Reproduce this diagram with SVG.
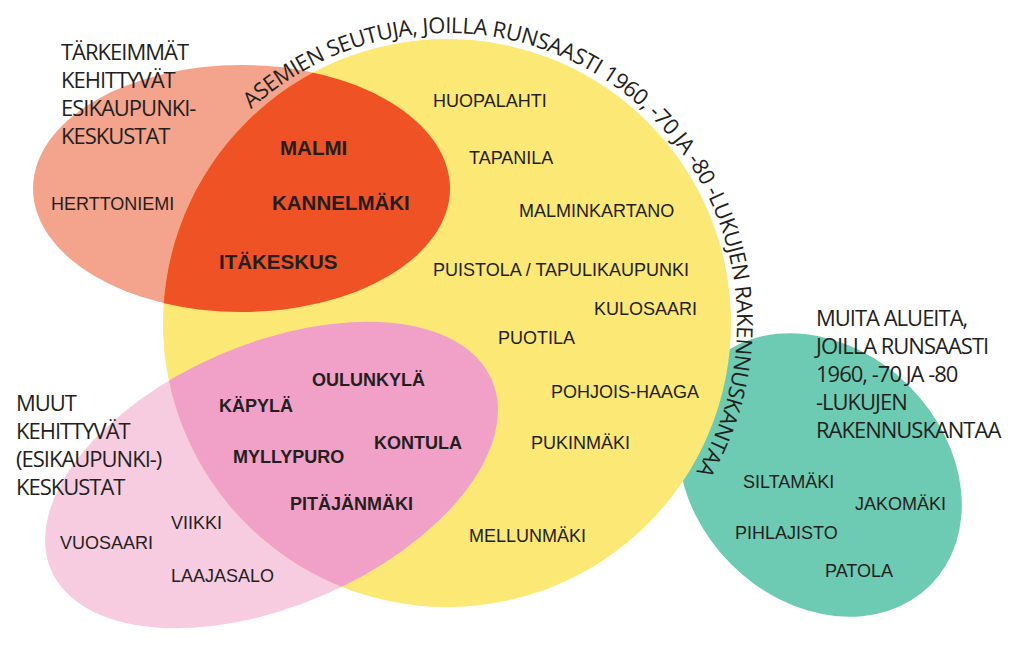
<svg xmlns="http://www.w3.org/2000/svg" width="1024" height="672" viewBox="0 0 1024 672">
<defs>
<style>
.h{font-family:"Open Sans","Noto Sans",sans-serif;font-size:22px;letter-spacing:-1px;fill:#231F20}
.n{font-family:"Liberation Sans",Arial,sans-serif;font-size:18px;fill:#231F20}
.b{font-family:"Liberation Sans",Arial,sans-serif;font-size:20.5px;font-weight:bold;fill:#231F20}
.bp{font-family:"Liberation Sans",Arial,sans-serif;font-size:18px;font-weight:bold;fill:#231F20}
.arc{font-family:"Open Sans","Noto Sans",sans-serif;font-size:22px;letter-spacing:-0.44px;fill:#231F20}
</style>
<clipPath id="circ"><circle cx="447" cy="323" r="284"/></clipPath>
<ellipse id="salmonShape" cx="241.5" cy="188.5" rx="208.5" ry="123.5"/>
<ellipse id="pinkShape" cx="271.5" cy="475" rx="240" ry="131" transform="rotate(-23.3 271.5 475)"/>
<path id="arcPath" d="M 251.1 109.2 A 290 290 0 0 1 695.6 472.4" fill="none"/>
</defs>
<rect width="1024" height="672" fill="#FFFFFF"/>

<g id="green-area">
<ellipse cx="820" cy="475" rx="156" ry="126" transform="rotate(45 820 475)" fill="#6ECBB3"/>
</g>
<g id="salmon-area">
<use href="#salmonShape" fill="#F4A48C"/>
</g>
<g id="pink-area">
<use href="#pinkShape" fill="#F8CCE0"/>
</g>
<g id="yellow-area">
<circle cx="447" cy="323" r="284" fill="#FCE875"/>
</g>
<g id="red-overlap" clip-path="url(#circ)">
<use href="#salmonShape" fill="#EF5224"/>
</g>
<g id="pink-overlap" clip-path="url(#circ)">
<use href="#pinkShape" fill="#F1A1C8"/>
</g>

<g id="arc-label">
<text class="arc"><textPath href="#arcPath">ASEMIEN SEUTUJA, JOILLA RUNSAASTI 1960, -70 JA -80 -LUKUJEN RAKENNUSKANTAA</textPath></text>
</g>

<g id="heading-main">
<text class="h" x="61" y="60">TÄRKEIMMÄT</text>
<text class="h" x="61" y="88">KEHITTYVÄT</text>
<text class="h" x="61" y="116">ESIKAUPUNKI-</text>
<text class="h" x="61" y="144">KESKUSTAT</text>
</g>
<g id="heading-other">
<text class="h" x="16" y="411">MUUT</text>
<text class="h" x="16" y="439">KEHITTYVÄT</text>
<text class="h" x="16" y="467">(ESIKAUPUNKI-)</text>
<text class="h" x="16" y="495">KESKUSTAT</text>
</g>
<g id="heading-green">
<text class="h" x="816" y="326">MUITA ALUEITA,</text>
<text class="h" x="816" y="354">JOILLA RUNSAASTI</text>
<text class="h" x="816" y="381.5">1960, -70 JA -80</text>
<text class="h" x="816" y="409.5">-LUKUJEN</text>
<text class="h" x="816" y="437.5">RAKENNUSKANTAA</text>
</g>

<g id="salmon-names">
<text class="n" x="51" y="210">HERTTONIEMI</text>
</g>
<g id="red-names">
<text class="b" x="280" y="155">MALMI</text>
<text class="b" x="272" y="210">KANNELMÄKI</text>
<text class="b" x="219" y="269">ITÄKESKUS</text>
</g>
<g id="yellow-names">
<text class="n" x="433" y="107">HUOPALAHTI</text>
<text class="n" x="469" y="164">TAPANILA</text>
<text class="n" x="519" y="217">MALMINKARTANO</text>
<text class="n" x="433" y="276">PUISTOLA / TAPULIKAUPUNKI</text>
<text class="n" x="594" y="315">KULOSAARI</text>
<text class="n" x="498" y="344">PUOTILA</text>
<text class="n" x="551" y="398">POHJOIS-HAAGA</text>
<text class="n" x="531" y="449">PUKINMÄKI</text>
<text class="n" x="469" y="542">MELLUNMÄKI</text>
</g>
<g id="pink-overlap-names">
<text class="bp" x="312" y="386">OULUNKYLÄ</text>
<text class="bp" x="219" y="412">KÄPYLÄ</text>
<text class="bp" x="374" y="449">KONTULA</text>
<text class="bp" x="233" y="463">MYLLYPURO</text>
<text class="bp" x="290" y="510">PITÄJÄNMÄKI</text>
</g>
<g id="pink-names">
<text class="n" x="171" y="529">VIIKKI</text>
<text class="n" x="60" y="549">VUOSAARI</text>
<text class="n" x="171" y="582">LAAJASALO</text>
</g>
<g id="green-names">
<text class="n" x="743" y="488">SILTAMÄKI</text>
<text class="n" x="855" y="510">JAKOMÄKI</text>
<text class="n" x="735" y="539">PIHLAJISTO</text>
<text class="n" x="825" y="577">PATOLA</text>
</g>
</svg>
